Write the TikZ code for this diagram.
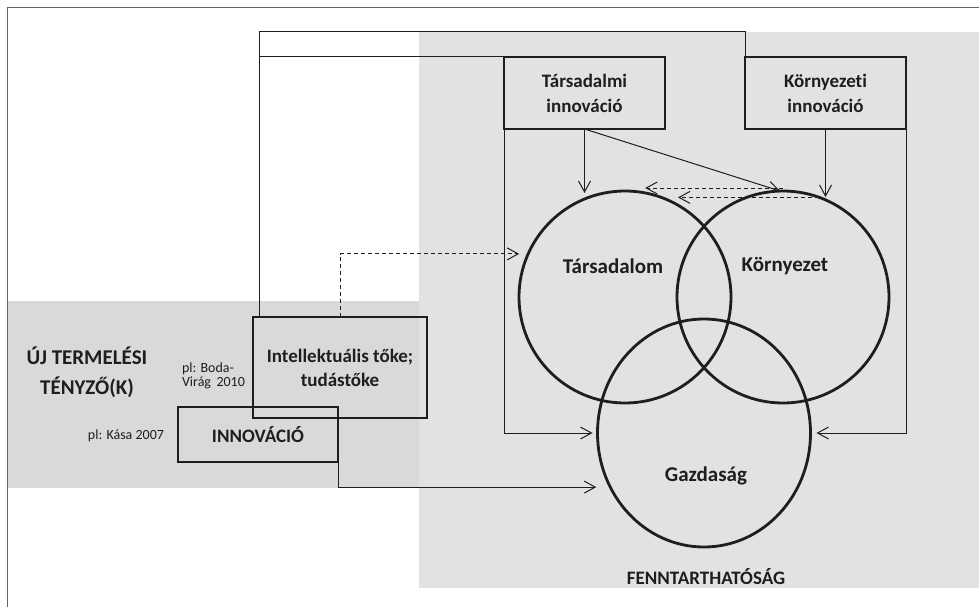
\documentclass[tikz,border=0pt]{standalone}
\usepackage{fontspec}
\setmainfont{Carlito}[Ligatures=NoCommon]
\usetikzlibrary{arrows.meta,shapes.geometric,positioning}

\definecolor{fennGray}{RGB}{225,226,228}
\definecolor{bandGray}{RGB}{216,217,219}
\definecolor{inkGray}{RGB}{30,30,30}
\definecolor{frameGray}{RGB}{100,100,100}

\begin{document}
\begin{tikzpicture}[
        x=1pt, y=-1pt,
        every node/.style={text=inkGray, align=center, inner sep=0pt, outer sep=0pt},
        box/.style={draw=inkGray, line width=1.8pt, minimum width=161pt, minimum height=72pt, font=\bfseries\fontsize{19}{25}\selectfont},
        thickbox/.style={draw=inkGray, line width=2.7pt, minimum width=174pt, minimum height=101pt, font=\bfseries\fontsize{19}{24}\selectfont},
        ring/.style={draw=inkGray, line width=2.8pt, circle, minimum size=212pt},
        oval/.style={draw=inkGray, line width=2.8pt, ellipse, minimum width=213pt, minimum height=228pt},
        conn/.style={draw=inkGray, line width=1pt},
        arr/.style={conn, -{Straight Barb[length=11pt,width=12pt]}},
        dasharr/.style={arr, dash pattern=on 4pt off 3pt},
        title/.style={font=\bfseries\fontsize{21}{30}\selectfont},
        note/.style={font=\fontsize{14}{14.5}\selectfont, align=left}
    ]
    \useasboundingbox (0,0) rectangle (979,607);

    % Background areas
    \fill[fennGray] (419,32) rectangle (979,588);
    \fill[bandGray] (7,301) rectangle (419,488);
    \draw[frameGray, line width=0.9pt] (7,607) -- (7,7) -- (979,7);

    % Nodes
    \node[box] (tinno) at (584.5,93) {Társadalmi\\innováció};
    \node[box] (kinno) at (825.5,93) {Környezeti\\innováció};
    \node[thickbox] (itoke) at (340,367.5) {Intellektuális tőke;\\tudástőke};
    \node[box, minimum width=160pt, minimum height=55pt] (innov) at (258,434.5) {INNOVÁCIÓ};

    \node[ring] (tars) at (625,297) {};
    \node[ring] (korny) at (783,297) {};
    \node[oval] (gazd) at (704,433) {};

    \node[title] (tarsTxt) at (613,266) {Társadalom};
    \node[title] (kornyTxt) at (785,266) {Környezet};
    \node[title] (gazdTxt) at (706,476) {Gazdaság};
    \node[font=\bfseries\fontsize{19}{22}\selectfont] (fenn) at (706,577) {FENNTARTHATÓSÁG};

    \node[title] (ujTenyezo) at (87,372) {ÚJ TERMELÉSI\\TÉNYZŐ(K)};
    \node[note, anchor=west] (bodaRef) at (182,376) {pl: Boda-\\Virág\ \,2010};
    \node[note, anchor=east] (kasaRef) at (164,436) {pl: Kása 2007};

    % Connectors
    \draw[conn] ([xshift=6pt]itoke.north west) |- ([yshift=25pt]kinno.north west) -- (kinno.north west);
    \draw[conn] ([xshift=6pt]itoke.north west) |- (tinno.north west);
    \draw[arr] (tinno.south west) |- ([xshift=-5pt]gazd.west);
    \draw[arr] (kinno.south east) |- ([xshift=6pt]gazd.east);
    \draw[arr] (innov.north east) |- ([xshift=-14pt]gazd.210.5);

    \draw[arr] (tinno.south) -- ([yshift=-2pt]tinno.south |- tars.north);
    \draw[arr] (kinno.south) -- ([yshift=-6pt]kinno.south |- korny.north);
    \draw[arr] (tinno.south) -- ([xshift=-3pt]korny.north);

    \draw[dasharr] ([yshift=3pt]korny.north) -- ([yshift=3pt]korny.north -| tars.79);
    \draw[dasharr] (korny.70) -- (korny.70 -| tars.60);
    \draw[dasharr] (itoke.north) |- ([xshift=-9pt]tars.156);

\end{tikzpicture}
\end{document}
